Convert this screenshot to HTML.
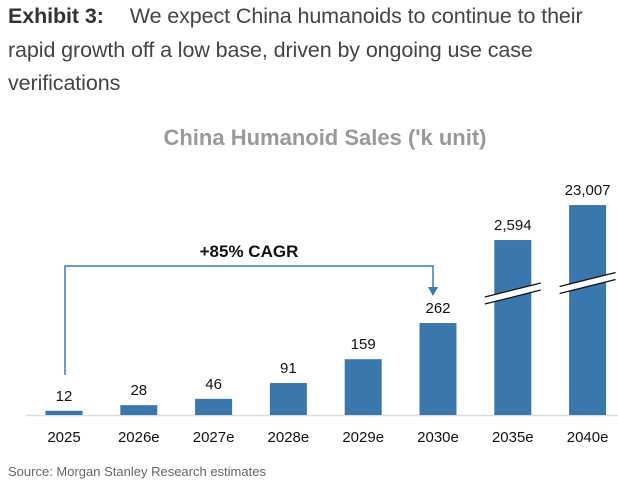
<!DOCTYPE html>
<html><head><style>
body{margin:0;width:618px;height:486px;background:#fff;font-family:"Liberation Sans",sans-serif;overflow:hidden;position:relative}
#hdr{position:absolute;left:8px;top:0px;width:600px;font-size:21.5px;line-height:33.5px;color:#444;letter-spacing:-0.1px}
#hdr b{color:#333;margin-right:26px}
#src{position:absolute;left:8px;top:464px;font-size:13px;color:#666}
svg{position:absolute;left:0;top:0}
</style></head><body>
<div id="hdr"><b>Exhibit 3:</b>We expect China humanoids to continue to their rapid growth off a low base, driven by ongoing use case verifications</div>
<svg id="chart" width="618" height="486">
<text x="325" y="145" text-anchor="middle" font-size="22" font-weight="bold" fill="#999">China Humanoid Sales ('k unit)</text>
<line x1="26" y1="415.5" x2="618" y2="415.5" stroke="#ddd" stroke-width="1.5"/>
<g id="bars"></g>
<path d="M65 375 V266 H433 V288" fill="none" stroke="#3a7bb5" stroke-width="1.5"/>
<polygon points="428,287 438,287 433,296" fill="#3a7bb5"/>
<text x="249" y="257" text-anchor="middle" font-size="17" font-weight="bold" fill="#111">+85% CAGR</text>
</svg>
<div id="src">Source: Morgan Stanley Research estimates</div>
<script>
const categories=["2025","2026e","2027e","2028e","2029e","2030e","2035e","2040e"];
const values=[12,28,46,91,159,262,2594,23007];
const labels=["12","28","46","91","159","262","2,594","23,007"];
const broken=[false,false,false,false,false,false,true,true];
const base=415, x0=64, step=74.8, bw=37;
function xPos(i){return x0+i*step;}
function yH(v,b){return b?49+36.9*Math.log10(v):v*0.351;}
const g=document.getElementById('bars');
const NS="http://www.w3.org/2000/svg";
categories.forEach((c,i)=>{
 const h=yH(values[i],broken[i]), cx=xPos(i);
 const r=document.createElementNS(NS,'rect');
 r.setAttribute('x',cx-bw/2);r.setAttribute('y',base-h);r.setAttribute('width',bw);r.setAttribute('height',h);r.setAttribute('fill','#3a77ad');
 
 
 g.appendChild(r);
 const t=document.createElementNS(NS,'text');
 t.setAttribute('x',cx);t.setAttribute('y',base-h-10);t.setAttribute('text-anchor','middle');t.setAttribute('font-size','15');t.setAttribute('fill','#111');t.textContent=labels[i];
 
 
 g.appendChild(t);
 const xl=document.createElementNS(NS,'text');
 xl.setAttribute('x',cx);xl.setAttribute('y',442);xl.setAttribute('text-anchor','middle');xl.setAttribute('font-size','15');xl.setAttribute('fill','#111');xl.textContent=c;
 
 
 g.appendChild(xl);
 if(broken[i]){
  const my=base-120-(h-175)*0.3;
  const bg=document.createElementNS(NS,'polygon');
  bg.setAttribute('points',`${cx-28},${my+2} ${cx+28},${my-12} ${cx+28},${my-5} ${cx-28},${my+9}`);
  bg.setAttribute('fill','#fff');
  
  
  g.appendChild(bg);
  [0,7].forEach(o=>{
   const l=document.createElementNS(NS,'line');
   l.setAttribute('x1',cx-28);l.setAttribute('y1',my+2+o);l.setAttribute('x2',cx+28);l.setAttribute('y2',my-12+o);l.setAttribute('stroke','#111');l.setAttribute('stroke-width','1.2');
   
   
   g.appendChild(l);
  });
 }
});
</script>
</body></html>
